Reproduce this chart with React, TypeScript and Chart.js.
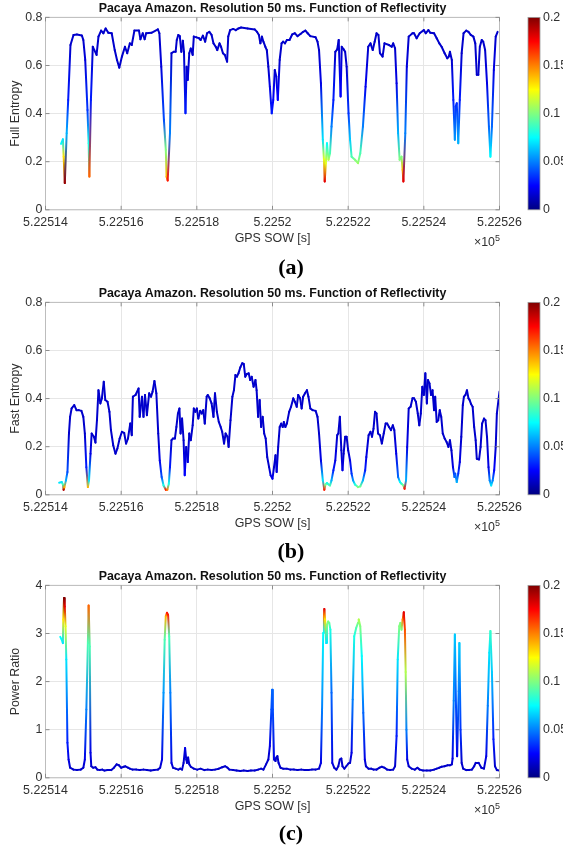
import React, { useEffect, useRef } from 'react';
import { Chart, registerables } from 'chart.js';

Chart.register(...registerables);

const FONT = "'Liberation Sans', Arial, Helvetica, sans-serif";
const TITLE = 'Pacaya Amazon. Resolution 50 ms. Function of Reflectivity';
const X_LABEL = 'GPS SOW [s]';
const T0 = 522514;
const xTickValues = [522514, 522516, 522518, 522520, 522522, 522524, 522526];
const xTickLabels = ['5.22514', '5.22516', '5.22518', '5.2252', '5.22522', '5.22524', '5.22526'];
const entropyTicks = [0, 0.2, 0.4, 0.6, 0.8];
const entropyTickLabels = ['0', '0.2', '0.4', '0.6', '0.8'];
const powerTicks = [0, 1, 2, 3, 4];
const powerTickLabels = ['0', '1', '2', '3', '4'];
const cbTicks = [0, 0.05, 0.1, 0.15, 0.2];
const cbTickLabels = ['0', '0.05', '0.1', '0.15', '0.2'];
const REFL_MAX = 0.2;

// ---------- Panel (a): Full Entropy (time offsets from T0 in s) ----------
const timeA = [
  0.41, 0.46, 0.48, 0.51, 0.56, 0.60, 0.66, 0.74, 0.83, 0.96,
  1.00, 1.05, 1.11, 1.14, 1.16, 1.20, 1.25, 1.29, 1.35, 1.40,
  1.47, 1.53, 1.59, 1.66, 1.75, 1.83, 1.89, 1.95, 2.02, 2.10,
  2.16, 2.23, 2.28, 2.35, 2.47, 2.51, 2.57, 2.62, 2.66, 2.80,
  2.97, 3.01, 3.06, 3.13, 3.18, 3.20, 3.23, 3.29, 3.33, 3.39,
  3.44, 3.47, 3.51, 3.55, 3.59, 3.63, 3.66, 3.70, 3.73, 3.76,
  3.80, 3.84, 3.89, 3.92, 3.99, 4.06, 4.10, 4.16, 4.22, 4.27,
  4.33, 4.39, 4.44, 4.50, 4.54, 4.60, 4.64, 4.69, 4.74, 4.80,
  4.83, 4.88, 4.96, 5.03, 5.10, 5.17, 5.34, 5.53, 5.59, 5.64,
  5.68, 5.72, 5.76, 5.81, 5.85, 5.89, 5.93, 5.98, 6.02, 6.06,
  6.10, 6.14, 6.19, 6.24, 6.28, 6.33, 6.38, 6.45, 6.52, 6.59,
  6.66, 6.74, 6.81, 6.87, 6.93, 7.00, 7.14, 7.19, 7.23, 7.28,
  7.33, 7.36, 7.38, 7.41, 7.44, 7.48, 7.52, 7.56, 7.61, 7.66,
  7.71, 7.75, 7.80, 7.83, 7.88, 7.92, 7.96, 8.01, 8.05, 8.09,
  8.18, 8.26, 8.32, 8.39, 8.46, 8.53, 8.59, 8.65, 8.70, 8.75,
  8.80, 8.84, 8.91, 8.96, 9.08, 9.15, 9.19, 9.24, 9.28, 9.32,
  9.36, 9.41, 9.44, 9.46, 9.51, 9.55, 9.60, 9.70, 9.74, 9.81,
  9.89, 10.00, 10.05, 10.12, 10.17, 10.27, 10.34, 10.41, 10.47, 10.55,
  10.62, 10.66, 10.69, 10.74, 10.78, 10.82, 10.84, 10.87, 10.91, 10.95,
  11.00, 11.05, 11.12, 11.18, 11.24, 11.31, 11.36, 11.40, 11.44, 11.48,
  11.53, 11.57, 11.62, 11.67, 11.72, 11.76, 11.80, 11.85, 11.90, 11.95,
];
const fullEntropy = [
  0.274, 0.293, 0.221, 0.111, 0.318, 0.457, 0.685, 0.727, 0.729, 0.725,
  0.706, 0.623, 0.415, 0.277, 0.138, 0.457, 0.678, 0.664, 0.644, 0.720,
  0.745, 0.734, 0.754, 0.736, 0.734, 0.664, 0.623, 0.591, 0.637, 0.678,
  0.651, 0.692, 0.685, 0.745, 0.745, 0.709, 0.734, 0.709, 0.734, 0.736,
  0.750, 0.734, 0.595, 0.374, 0.249, 0.138, 0.122, 0.318, 0.651, 0.657,
  0.657, 0.706, 0.727, 0.722, 0.657, 0.703, 0.657, 0.401, 0.595, 0.540,
  0.651, 0.671, 0.644, 0.720, 0.717, 0.713, 0.706, 0.724, 0.699, 0.734,
  0.740, 0.727, 0.692, 0.678, 0.664, 0.692, 0.678, 0.651, 0.644, 0.616,
  0.720, 0.747, 0.752, 0.747, 0.754, 0.758, 0.754, 0.750, 0.740, 0.727,
  0.692, 0.720, 0.699, 0.678, 0.664, 0.595, 0.512, 0.401, 0.457, 0.581,
  0.554, 0.457, 0.623, 0.692, 0.699, 0.692, 0.706, 0.706, 0.729, 0.734,
  0.722, 0.731, 0.740, 0.745, 0.734, 0.722, 0.717, 0.699, 0.664, 0.526,
  0.291, 0.208, 0.118, 0.194, 0.277, 0.208, 0.235, 0.346, 0.457, 0.657,
  0.667, 0.706, 0.471, 0.678, 0.667, 0.657, 0.595, 0.401, 0.291, 0.221,
  0.208, 0.194, 0.235, 0.346, 0.512, 0.678, 0.692, 0.664, 0.699, 0.734,
  0.727, 0.651, 0.637, 0.692, 0.685, 0.678, 0.692, 0.671, 0.526, 0.318,
  0.208, 0.221, 0.166, 0.118, 0.318, 0.595, 0.720, 0.734, 0.734, 0.713,
  0.734, 0.747, 0.734, 0.747, 0.736, 0.734, 0.713, 0.692, 0.678, 0.651,
  0.630, 0.637, 0.657, 0.623, 0.457, 0.291, 0.429, 0.443, 0.277, 0.457,
  0.651, 0.734, 0.745, 0.740, 0.727, 0.720, 0.692, 0.561, 0.561, 0.678,
  0.706, 0.699, 0.664, 0.526, 0.346, 0.221, 0.346, 0.581, 0.720, 0.740,
];
const reflA = [
  0.075, 0.07, 0.13, 0.195, 0.06, 0.03, 0.015, 0.015, 0.015, 0.015,
  0.015, 0.018, 0.035, 0.08, 0.155, 0.03, 0.015, 0.015, 0.015, 0.015,
  0.015, 0.015, 0.015, 0.015, 0.015, 0.015, 0.015, 0.015, 0.015, 0.015,
  0.015, 0.015, 0.015, 0.015, 0.015, 0.015, 0.015, 0.015, 0.015, 0.015,
  0.015, 0.015, 0.018, 0.04, 0.1, 0.14, 0.17, 0.05, 0.015, 0.015,
  0.015, 0.015, 0.015, 0.015, 0.015, 0.015, 0.015, 0.03, 0.015, 0.018,
  0.015, 0.015, 0.015, 0.015, 0.015, 0.015, 0.015, 0.015, 0.015, 0.015,
  0.015, 0.015, 0.015, 0.015, 0.015, 0.015, 0.015, 0.015, 0.015, 0.015,
  0.015, 0.015, 0.015, 0.015, 0.015, 0.015, 0.015, 0.015, 0.015, 0.015,
  0.015, 0.015, 0.015, 0.015, 0.015, 0.015, 0.02, 0.03, 0.025, 0.015,
  0.018, 0.025, 0.015, 0.015, 0.015, 0.015, 0.015, 0.015, 0.015, 0.015,
  0.015, 0.015, 0.015, 0.015, 0.015, 0.015, 0.015, 0.015, 0.015, 0.02,
  0.07, 0.12, 0.18, 0.12, 0.075, 0.11, 0.09, 0.05, 0.03, 0.015,
  0.015, 0.015, 0.025, 0.015, 0.015, 0.015, 0.015, 0.035, 0.065, 0.09,
  0.1, 0.105, 0.09, 0.05, 0.022, 0.015, 0.015, 0.015, 0.015, 0.015,
  0.015, 0.015, 0.015, 0.015, 0.015, 0.015, 0.015, 0.015, 0.02, 0.06,
  0.1, 0.1, 0.14, 0.18, 0.05, 0.018, 0.015, 0.015, 0.015, 0.015,
  0.015, 0.015, 0.015, 0.015, 0.015, 0.015, 0.015, 0.015, 0.015, 0.015,
  0.015, 0.015, 0.015, 0.015, 0.03, 0.055, 0.035, 0.033, 0.06, 0.03,
  0.015, 0.015, 0.015, 0.015, 0.015, 0.015, 0.015, 0.015, 0.015, 0.015,
  0.015, 0.015, 0.015, 0.02, 0.045, 0.075, 0.045, 0.02, 0.015, 0.015,
];

// ---------- Panel (b): Fast Entropy ----------
const timeB = [
  0.36, 0.43, 0.46, 0.48, 0.50, 0.54, 0.58, 0.62, 0.65, 0.69,
  0.76, 0.82, 0.88, 0.95, 1.00, 1.04, 1.08, 1.12, 1.15, 1.19,
  1.22, 1.28, 1.32, 1.36, 1.40, 1.45, 1.49, 1.54, 1.58, 1.64,
  1.69, 1.73, 1.79, 1.85, 1.90, 1.96, 2.02, 2.08, 2.13, 2.18,
  2.24, 2.28, 2.31, 2.38, 2.46, 2.49, 2.55, 2.59, 2.63, 2.68,
  2.74, 2.79, 2.83, 2.88, 2.93, 2.98, 3.02, 3.07, 3.12, 3.18,
  3.22, 3.26, 3.29, 3.33, 3.37, 3.42, 3.46, 3.50, 3.54, 3.57,
  3.61, 3.65, 3.68, 3.72, 3.76, 3.80, 3.84, 3.89, 3.92, 3.96,
  4.00, 4.04, 4.09, 4.13, 4.17, 4.21, 4.26, 4.29, 4.34, 4.39,
  4.44, 4.48, 4.53, 4.58, 4.63, 4.67, 4.72, 4.76, 4.81, 4.84,
  4.89, 4.94, 4.98, 5.02, 5.06, 5.10, 5.15, 5.20, 5.24, 5.28,
  5.32, 5.37, 5.41, 5.45, 5.50, 5.55, 5.58, 5.62, 5.66, 5.70,
  5.74, 5.78, 5.82, 5.86, 5.91, 5.95, 6.00, 6.04, 6.08, 6.11,
  6.15, 6.19, 6.23, 6.27, 6.30, 6.34, 6.38, 6.44, 6.49, 6.55,
  6.59, 6.64, 6.68, 6.73, 6.77, 6.81, 6.86, 6.91, 6.95, 7.00,
  7.06, 7.14, 7.19, 7.23, 7.28, 7.33, 7.37, 7.40, 7.44, 7.48,
  7.52, 7.56, 7.61, 7.66, 7.71, 7.74, 7.78, 7.82, 7.85, 7.88,
  7.92, 7.96, 8.00, 8.05, 8.09, 8.13, 8.18, 8.26, 8.32, 8.39,
  8.45, 8.48, 8.54, 8.59, 8.63, 8.67, 8.71, 8.75, 8.79, 8.84,
  8.89, 8.94, 8.99, 9.03, 9.08, 9.13, 9.18, 9.22, 9.27, 9.32,
  9.37, 9.41, 9.46, 9.49, 9.53, 9.56, 9.60, 9.65, 9.70, 9.74,
  9.79, 9.84, 9.88, 9.92, 9.96, 10.00, 10.04, 10.08, 10.11, 10.15,
  10.19, 10.23, 10.27, 10.30, 10.34, 10.38, 10.42, 10.46, 10.50, 10.55,
  10.60, 10.65, 10.69, 10.73, 10.77, 10.81, 10.83, 10.87, 10.91, 10.95,
  10.99, 11.03, 11.06, 11.10, 11.14, 11.18, 11.21, 11.25, 11.29, 11.33,
  11.37, 11.40, 11.46, 11.50, 11.54, 11.59, 11.63, 11.67, 11.71, 11.74,
  11.78, 11.82, 11.86, 11.90, 11.93, 12.00,
];
const fastEntropy = [
  0.050, 0.053, 0.043, 0.021, 0.032, 0.060, 0.095, 0.255, 0.324, 0.359,
  0.373, 0.352, 0.352, 0.349, 0.324, 0.255, 0.115, 0.032, 0.060, 0.171,
  0.255, 0.241, 0.217, 0.310, 0.435, 0.380, 0.401, 0.470, 0.394, 0.387,
  0.345, 0.269, 0.206, 0.171, 0.192, 0.234, 0.262, 0.257, 0.213, 0.234,
  0.296, 0.248, 0.408, 0.415, 0.442, 0.324, 0.408, 0.324, 0.415, 0.331,
  0.422, 0.408, 0.429, 0.473, 0.422, 0.255, 0.143, 0.074, 0.039, 0.021,
  0.021, 0.046, 0.115, 0.227, 0.234, 0.234, 0.282, 0.338, 0.359, 0.255,
  0.317, 0.227, 0.081, 0.199, 0.136, 0.255, 0.227, 0.289, 0.359, 0.345,
  0.359, 0.317, 0.349, 0.338, 0.352, 0.296, 0.408, 0.415, 0.401, 0.380,
  0.324, 0.422, 0.345, 0.303, 0.282, 0.262, 0.213, 0.255, 0.241, 0.199,
  0.310, 0.408, 0.435, 0.498, 0.491, 0.505, 0.530, 0.547, 0.544, 0.491,
  0.502, 0.505, 0.477, 0.491, 0.449, 0.477, 0.435, 0.324, 0.394, 0.282,
  0.324, 0.255, 0.234, 0.157, 0.115, 0.081, 0.067, 0.115, 0.164, 0.095,
  0.199, 0.282, 0.296, 0.282, 0.303, 0.282, 0.296, 0.345, 0.366, 0.401,
  0.387, 0.366, 0.415, 0.401, 0.359, 0.408, 0.422, 0.435, 0.408, 0.359,
  0.352, 0.349, 0.324, 0.255, 0.143, 0.060, 0.021, 0.043, 0.049, 0.043,
  0.039, 0.060, 0.102, 0.143, 0.248, 0.255, 0.324, 0.185, 0.102, 0.171,
  0.241, 0.241, 0.185, 0.143, 0.088, 0.060, 0.043, 0.032, 0.035, 0.060,
  0.102, 0.157, 0.248, 0.262, 0.241, 0.275, 0.345, 0.338, 0.255, 0.248,
  0.213, 0.255, 0.296, 0.296, 0.282, 0.269, 0.289, 0.269, 0.171, 0.074,
  0.053, 0.046, 0.039, 0.025, 0.060, 0.199, 0.359, 0.366, 0.401, 0.401,
  0.387, 0.338, 0.289, 0.338, 0.449, 0.415, 0.505, 0.380, 0.477, 0.463,
  0.415, 0.435, 0.352, 0.408, 0.303, 0.310, 0.352, 0.324, 0.255, 0.234,
  0.220, 0.199, 0.227, 0.185, 0.115, 0.074, 0.088, 0.053, 0.088, 0.136,
  0.241, 0.373, 0.408, 0.415, 0.435, 0.401, 0.394, 0.377, 0.366, 0.282,
  0.227, 0.150, 0.147, 0.199, 0.296, 0.317, 0.310, 0.241, 0.115, 0.060,
  0.039, 0.060, 0.102, 0.199, 0.338, 0.429,
];
const reflB = [
  0.07, 0.07, 0.09, 0.19, 0.14, 0.06, 0.04, 0.015, 0.015, 0.015,
  0.015, 0.015, 0.015, 0.015, 0.015, 0.015, 0.03, 0.14, 0.07, 0.02,
  0.015, 0.015, 0.015, 0.015, 0.015, 0.015, 0.015, 0.015, 0.015, 0.015,
  0.015, 0.015, 0.015, 0.015, 0.015, 0.015, 0.015, 0.015, 0.015, 0.015,
  0.015, 0.015, 0.015, 0.015, 0.015, 0.015, 0.015, 0.015, 0.015, 0.015,
  0.015, 0.015, 0.015, 0.015, 0.015, 0.015, 0.02, 0.04, 0.08, 0.17,
  0.15, 0.08, 0.03, 0.015, 0.015, 0.015, 0.015, 0.015, 0.015, 0.015,
  0.015, 0.015, 0.025, 0.015, 0.018, 0.015, 0.015, 0.015, 0.015, 0.015,
  0.015, 0.015, 0.015, 0.015, 0.015, 0.015, 0.015, 0.015, 0.015, 0.015,
  0.015, 0.015, 0.015, 0.015, 0.015, 0.015, 0.015, 0.015, 0.015, 0.015,
  0.015, 0.015, 0.015, 0.015, 0.015, 0.015, 0.015, 0.015, 0.015, 0.015,
  0.015, 0.015, 0.015, 0.015, 0.015, 0.015, 0.015, 0.015, 0.015, 0.015,
  0.015, 0.015, 0.015, 0.015, 0.015, 0.02, 0.022, 0.015, 0.015, 0.018,
  0.015, 0.015, 0.015, 0.015, 0.015, 0.015, 0.015, 0.015, 0.015, 0.015,
  0.015, 0.015, 0.015, 0.015, 0.015, 0.015, 0.015, 0.015, 0.015, 0.015,
  0.015, 0.015, 0.015, 0.015, 0.02, 0.07, 0.17, 0.1, 0.08, 0.085,
  0.09, 0.06, 0.03, 0.02, 0.015, 0.015, 0.015, 0.015, 0.02, 0.015,
  0.015, 0.015, 0.015, 0.02, 0.035, 0.055, 0.08, 0.1, 0.095, 0.06,
  0.03, 0.02, 0.015, 0.015, 0.015, 0.015, 0.015, 0.015, 0.015, 0.015,
  0.015, 0.015, 0.015, 0.015, 0.015, 0.015, 0.015, 0.015, 0.02, 0.045,
  0.075, 0.085, 0.1, 0.17, 0.06, 0.02, 0.015, 0.015, 0.015, 0.015,
  0.015, 0.015, 0.015, 0.015, 0.015, 0.015, 0.015, 0.015, 0.015, 0.015,
  0.015, 0.015, 0.015, 0.015, 0.015, 0.015, 0.015, 0.015, 0.015, 0.015,
  0.015, 0.015, 0.015, 0.015, 0.02, 0.045, 0.04, 0.06, 0.035, 0.02,
  0.015, 0.015, 0.015, 0.015, 0.015, 0.015, 0.015, 0.015, 0.015, 0.015,
  0.015, 0.015, 0.015, 0.015, 0.015, 0.015, 0.015, 0.015, 0.02, 0.05,
  0.07, 0.05, 0.025, 0.015, 0.015, 0.015,
];

// ---------- Panel (c): Power Ratio ----------
const timeC = [
  0.39, 0.43, 0.46, 0.47, 0.49, 0.51, 0.53, 0.55, 0.58, 0.61,
  0.65, 0.74, 0.83, 0.93, 1.00, 1.04, 1.08, 1.12, 1.14, 1.17,
  1.19, 1.21, 1.26, 1.32, 1.37, 1.43, 1.50, 1.56, 1.64, 1.74,
  1.81, 1.88, 1.94, 2.00, 2.07, 2.11, 2.18, 2.23, 2.30, 2.40,
  2.49, 2.59, 2.68, 2.78, 2.87, 2.97, 3.03, 3.08, 3.12, 3.15,
  3.18, 3.21, 3.24, 3.27, 3.30, 3.33, 3.37, 3.44, 3.51, 3.56,
  3.61, 3.65, 3.69, 3.72, 3.74, 3.77, 3.80, 3.84, 3.92, 4.01,
  4.10, 4.20, 4.29, 4.39, 4.48, 4.58, 4.67, 4.75, 4.81, 4.86,
  4.96, 5.05, 5.15, 5.24, 5.34, 5.43, 5.53, 5.62, 5.70, 5.76,
  5.83, 5.89, 5.93, 5.97, 5.99, 6.01, 6.04, 6.08, 6.10, 6.13,
  6.16, 6.21, 6.28, 6.38, 6.47, 6.57, 6.66, 6.76, 6.85, 6.95,
  7.04, 7.14, 7.23, 7.28, 7.31, 7.34, 7.36, 7.37, 7.39, 7.42,
  7.44, 7.47, 7.50, 7.53, 7.56, 7.58, 7.63, 7.69, 7.74, 7.78,
  7.82, 7.85, 7.90, 7.95, 8.01, 8.05, 8.09, 8.12, 8.16, 8.21,
  8.26, 8.28, 8.32, 8.36, 8.40, 8.44, 8.47, 8.54, 8.61, 8.67,
  8.75, 8.83, 8.89, 8.96, 9.03, 9.11, 9.19, 9.24, 9.28, 9.31,
  9.35, 9.38, 9.41, 9.44, 9.47, 9.50, 9.52, 9.54, 9.56, 9.60,
  9.68, 9.76, 9.83, 9.89, 9.98, 10.08, 10.17, 10.27, 10.34, 10.41,
  10.47, 10.55, 10.63, 10.69, 10.74, 10.76, 10.79, 10.82, 10.85, 10.88,
  10.92, 10.94, 10.97, 11.00, 11.04, 11.12, 11.19, 11.27, 11.33, 11.37,
  11.45, 11.52, 11.59, 11.65, 11.69, 11.73, 11.76, 11.80, 11.84, 11.88,
  11.93, 11.99,
];
const powerRatio = [
  2.93, 2.87, 2.80, 3.29, 3.74, 3.56, 3.15, 2.46, 0.73, 0.38,
  0.21, 0.17, 0.16, 0.17, 0.21, 0.38, 1.42, 2.80, 3.58, 2.73,
  0.52, 0.24, 0.21, 0.22, 0.17, 0.16, 0.17, 0.15, 0.16, 0.16,
  0.21, 0.28, 0.26, 0.21, 0.23, 0.24, 0.21, 0.19, 0.17, 0.17,
  0.16, 0.17, 0.16, 0.15, 0.16, 0.17, 0.21, 0.38, 1.77, 2.87,
  3.36, 3.43, 3.39, 2.94, 1.77, 0.31, 0.21, 0.19, 0.17, 0.19,
  0.17, 0.31, 0.62, 0.38, 0.31, 0.42, 0.28, 0.23, 0.19, 0.17,
  0.19, 0.16, 0.17, 0.16, 0.17, 0.19, 0.22, 0.24, 0.21, 0.17,
  0.16, 0.15, 0.14, 0.15, 0.14, 0.15, 0.15, 0.17, 0.19, 0.17,
  0.28, 0.38, 0.66, 1.42, 1.83, 1.42, 0.38, 0.35, 0.42, 0.45,
  0.31, 0.21, 0.19, 0.19, 0.17, 0.17, 0.16, 0.17, 0.16, 0.16,
  0.17, 0.17, 0.19, 0.31, 1.42, 3.01, 3.36, 3.51, 3.29, 2.80,
  3.18, 3.25, 3.22, 3.08, 1.77, 0.31, 0.21, 0.17, 0.24, 0.38,
  0.40, 0.24, 0.19, 0.24, 0.30, 0.31, 0.52, 1.63, 2.94, 3.11,
  3.22, 3.29, 3.15, 2.53, 1.35, 0.38, 0.24, 0.19, 0.19, 0.17,
  0.17, 0.21, 0.23, 0.21, 0.17, 0.16, 0.17, 0.24, 0.87, 2.46,
  3.15, 3.22, 3.08, 3.29, 3.44, 3.08, 2.20, 1.00, 0.38, 0.24,
  0.19, 0.17, 0.21, 0.17, 0.15, 0.15, 0.15, 0.17, 0.19, 0.21,
  0.23, 0.24, 0.26, 0.26, 0.28, 0.40, 1.60, 2.98, 1.50, 0.45,
  1.80, 2.80, 1.00, 0.31, 0.19, 0.16, 0.16, 0.17, 0.24, 0.31,
  0.31, 0.21, 0.19, 0.45, 1.50, 2.60, 3.05, 2.20, 0.80, 0.24,
  0.16, 0.15,
];
const reflC = [
  0.075, 0.075, 0.07, 0.13, 0.2, 0.18, 0.12, 0.07, 0.03, 0.02,
  0.015, 0.015, 0.015, 0.015, 0.015, 0.02, 0.05, 0.09, 0.155, 0.09,
  0.02, 0.015, 0.015, 0.015, 0.015, 0.015, 0.015, 0.015, 0.015, 0.015,
  0.015, 0.015, 0.015, 0.015, 0.015, 0.015, 0.015, 0.015, 0.015, 0.015,
  0.015, 0.015, 0.015, 0.015, 0.015, 0.015, 0.015, 0.02, 0.055, 0.09,
  0.14, 0.17, 0.17, 0.09, 0.05, 0.02, 0.015, 0.015, 0.015, 0.015,
  0.015, 0.015, 0.02, 0.015, 0.015, 0.015, 0.015, 0.015, 0.015, 0.015,
  0.015, 0.015, 0.015, 0.015, 0.015, 0.015, 0.015, 0.015, 0.015, 0.015,
  0.015, 0.015, 0.015, 0.015, 0.015, 0.015, 0.015, 0.015, 0.015, 0.015,
  0.015, 0.015, 0.02, 0.04, 0.045, 0.04, 0.02, 0.015, 0.015, 0.015,
  0.015, 0.015, 0.015, 0.015, 0.015, 0.015, 0.015, 0.015, 0.015, 0.015,
  0.015, 0.015, 0.015, 0.02, 0.05, 0.075, 0.15, 0.18, 0.13, 0.07,
  0.1, 0.1, 0.095, 0.08, 0.045, 0.02, 0.015, 0.015, 0.015, 0.015,
  0.015, 0.015, 0.015, 0.015, 0.015, 0.015, 0.02, 0.05, 0.08, 0.09,
  0.1, 0.11, 0.1, 0.075, 0.045, 0.02, 0.015, 0.015, 0.015, 0.015,
  0.015, 0.015, 0.015, 0.015, 0.015, 0.015, 0.015, 0.015, 0.03, 0.07,
  0.1, 0.1, 0.1, 0.15, 0.18, 0.16, 0.11, 0.05, 0.02, 0.015,
  0.015, 0.015, 0.015, 0.015, 0.015, 0.015, 0.015, 0.015, 0.015, 0.015,
  0.015, 0.015, 0.015, 0.015, 0.015, 0.02, 0.05, 0.065, 0.04, 0.02,
  0.05, 0.065, 0.035, 0.015, 0.015, 0.015, 0.015, 0.015, 0.015, 0.015,
  0.015, 0.015, 0.015, 0.02, 0.05, 0.07, 0.085, 0.065, 0.03, 0.015,
  0.015, 0.015,
];

// ---------- helpers ----------
function jet(v: number): string {
  const t = Math.min(1, Math.max(0, v));
  const c = (x: number) => Math.round(255 * Math.min(1, Math.max(0, x)));
  return `rgb(${c(1.5 - Math.abs(4 * t - 3))},${c(1.5 - Math.abs(4 * t - 2))},${c(1.5 - Math.abs(4 * t - 1))})`;
}
const reflColor = (r: number) => jet(r / REFL_MAX);

const TEXT = '#303030';
const GRID = '#e6e6e6';
const BOX = '#bdbdbd';

const decorPlugin = {
  id: 'matlabDecor',
  afterDatasetsDraw(chart: any) {
    const { ctx, chartArea: a } = chart;
    ctx.save();
    ctx.strokeStyle = BOX;
    ctx.lineWidth = 1;
    ctx.strokeRect(a.left, a.top, a.right - a.left, a.bottom - a.top);
    // inner tick marks
    ctx.strokeStyle = '#8c8c8c';
    ctx.beginPath();
    const xs = chart.scales.x;
    xs.ticks.forEach((t: any) => {
      const px = xs.getPixelForValue(t.value);
      ctx.moveTo(px, a.bottom);
      ctx.lineTo(px, a.bottom - 4);
      ctx.moveTo(px, a.top);
      ctx.lineTo(px, a.top + 4);
    });
    const ys = chart.scales.y;
    ys.ticks.forEach((t: any) => {
      const py = ys.getPixelForValue(t.value);
      ctx.moveTo(a.left, py);
      ctx.lineTo(a.left + 4, py);
      ctx.moveTo(a.right, py);
      ctx.lineTo(a.right - 4, py);
    });
    ctx.stroke();
    // colorbar
    const cb = chart.scales.cb;
    const top = cb.getPixelForValue(REFL_MAX);
    const bottom = cb.getPixelForValue(0);
    const g = ctx.createLinearGradient(0, bottom, 0, top);
    for (let i = 0; i <= 32; i++) {
      g.addColorStop(i / 32, jet(i / 32));
    }
    ctx.fillStyle = g;
    const bx = cb.left + 28.5;
    ctx.fillRect(bx, top, 12, bottom - top);
    ctx.strokeStyle = '#9a9a9a';
    ctx.lineWidth = 0.8;
    ctx.strokeRect(bx, top, 12, bottom - top);
    ctx.restore();
  },
};

type PanelProps = {
  times: number[];
  values: number[];
  refl: number[];
  yLabel: string;
  yTicks: number[];
  yTickLabels: string[];
};

function Panel({ times, values, refl, yLabel, yTicks, yTickLabels }: PanelProps) {
  const ref = useRef<HTMLCanvasElement | null>(null);
  useEffect(() => {
    const canvas = ref.current;
    if (!canvas) return;
    const tickFont = { family: FONT, size: 12.4 };
    const chart = new Chart(canvas, {
      type: 'line',
      data: {
        datasets: [
          {
            data: times.map((t, i) => ({ x: T0 + t, y: values[i] })),
            borderColor: reflColor(0.015),
            borderWidth: 2,
            borderCapStyle: 'round',
            borderJoinStyle: 'round',
            pointRadius: 0,
            tension: 0,
            fill: false,
            segment: {
              borderColor: (c: any) => {
                const g = c.chart.ctx.createLinearGradient(c.p0.x, c.p0.y, c.p1.x, c.p1.y);
                g.addColorStop(0, reflColor(refl[c.p0DataIndex]));
                g.addColorStop(1, reflColor(refl[c.p1DataIndex]));
                return g;
              },
            },
          } as any,
        ],
      },
      options: {
        responsive: false,
        animation: false,
        events: [],
        layout: { padding: 0 },
        plugins: {
          legend: { display: false },
          tooltip: { enabled: false },
          title: {
            display: true,
            text: TITLE,
            fullSize: false,
            color: '#111',
            font: { family: FONT, size: 12.4, weight: 'bold' },
            padding: { top: 1, bottom: 1.5 },
          },
        },
        scales: {
          x: {
            type: 'linear',
            min: xTickValues[0],
            max: xTickValues[xTickValues.length - 1],
            afterBuildTicks: (s: any) => {
              s.ticks = xTickValues.map((v) => ({ value: v }));
            },
            ticks: {
              callback: (_v: any, i: number) => xTickLabels[i],
              font: tickFont,
              color: TEXT,
              padding: 5,
              maxRotation: 0,
              autoSkip: false,
            },
            grid: { color: GRID, drawTicks: false },
            border: { display: false },
            title: {
              display: true,
              text: X_LABEL,
              font: tickFont,
              color: TEXT,
              padding: { top: 0, bottom: 34 },
            },
            afterFit: (s: any) => {
              s.height = 70.2;
            },
          },
          y: {
            type: 'linear',
            min: yTicks[0],
            max: yTicks[yTicks.length - 1],
            afterBuildTicks: (s: any) => {
              s.ticks = yTicks.map((v) => ({ value: v }));
            },
            ticks: {
              callback: (_v: any, i: number) => yTickLabels[i],
              font: tickFont,
              color: TEXT,
              padding: 3,
            },
            grid: { color: GRID, drawTicks: false },
            border: { display: false },
            title: {
              display: true,
              text: yLabel,
              font: tickFont,
              color: TEXT,
              padding: { top: 8, bottom: 0 },
            },
            afterFit: (s: any) => {
              s.width = 45.5;
              s.paddingTop = 0;
              s.paddingBottom = 0;
            },
          },
          cb: {
            type: 'linear',
            position: 'right',
            min: cbTicks[0],
            max: cbTicks[cbTicks.length - 1],
            afterBuildTicks: (s: any) => {
              s.ticks = cbTicks.map((v) => ({ value: v }));
            },
            ticks: {
              callback: (_v: any, i: number) => cbTickLabels[i],
              font: tickFont,
              color: TEXT,
              padding: 43.5,
            },
            grid: { display: false, drawTicks: false },
            border: { display: false },
            afterFit: (s: any) => {
              s.width = 63.5;
              s.paddingTop = 0;
              s.paddingBottom = 0;
            },
          },
        },
      } as any,
      plugins: [decorPlugin],
    });
    return () => chart.destroy();
  }, [times, values, refl, yLabel, yTicks, yTickLabels]);
  return <canvas ref={ref} width={563} height={280} style={{ display: 'block' }} />;
}

const panels = [
  { top: 0, times: timeA, values: fullEntropy, refl: reflA, yLabel: 'Full Entropy', yTicks: entropyTicks, yTickLabels: entropyTickLabels, tag: '(a)', tagTop: 255 },
  { top: 285, times: timeB, values: fastEntropy, refl: reflB, yLabel: 'Fast Entropy', yTicks: entropyTicks, yTickLabels: entropyTickLabels, tag: '(b)', tagTop: 254 },
  { top: 568, times: timeC, values: powerRatio, refl: reflC, yLabel: 'Power Ratio', yTicks: powerTicks, yTickLabels: powerTickLabels, tag: '(c)', tagTop: 253 },
];

export default function App() {
  return (
    <div style={{ position: 'absolute', left: 0, top: 0, width: 563, height: 851, background: '#fff', overflow: 'hidden' }}>
      {panels.map((p) => (
        <React.Fragment key={p.tag}>
          <div style={{ position: 'absolute', left: 0, top: p.top, width: 563, height: 280 }}>
            <Panel times={p.times} values={p.values} refl={p.refl} yLabel={p.yLabel} yTicks={p.yTicks} yTickLabels={p.yTickLabels} />
          </div>
          <div
            style={{
              position: 'absolute',
              top: p.top + 234,
              right: 63,
              fontFamily: FONT,
              fontSize: 12.4,
              lineHeight: '16px',
              color: TEXT,
              whiteSpace: 'nowrap',
            }}
          >
            ×10<span style={{ fontSize: 9, position: 'relative', top: -5 }}>5</span>
          </div>
          <div
            style={{
              position: 'absolute',
              top: p.top + p.tagTop,
              left: 241,
              width: 100,
              textAlign: 'center',
              fontFamily: "'Liberation Serif', 'Times New Roman', serif",
              fontWeight: 'bold',
              fontSize: 22,
              lineHeight: '24px',
              color: '#000',
            }}
          >
            {p.tag}
          </div>
        </React.Fragment>
      ))}
    </div>
  );
}
